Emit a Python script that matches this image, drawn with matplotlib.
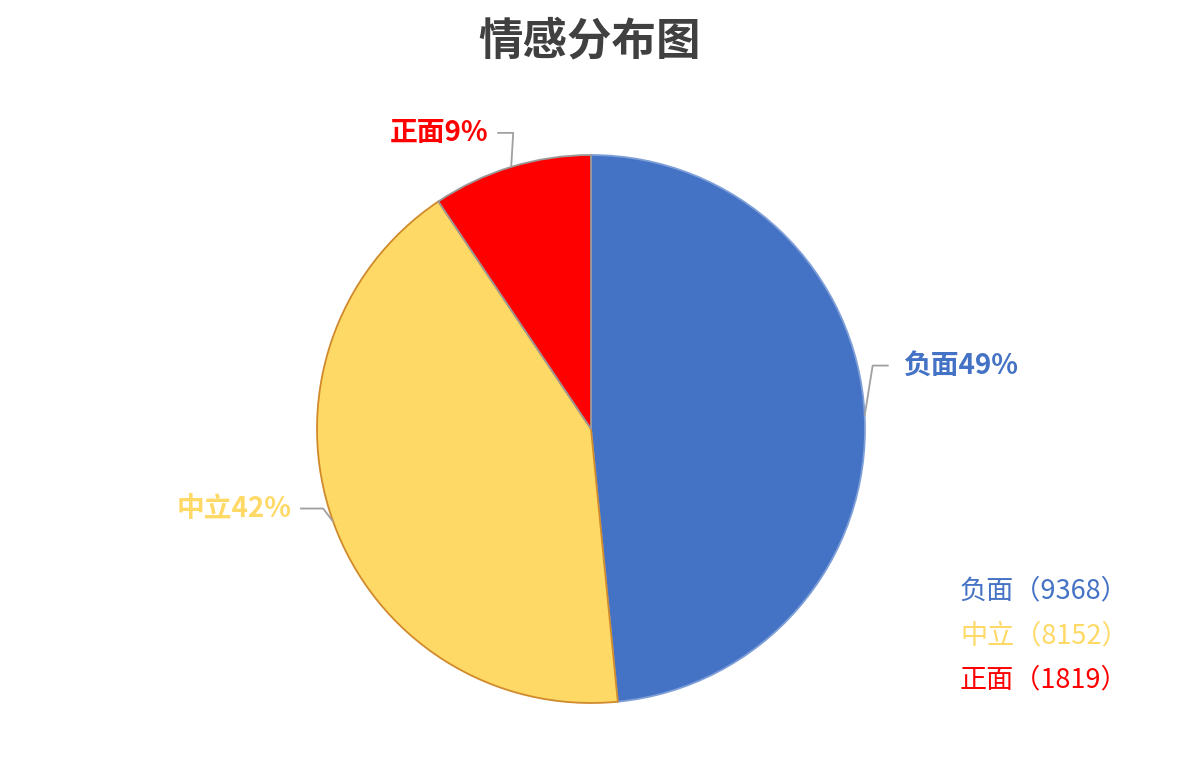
import matplotlib
matplotlib.use("Agg")
import matplotlib.pyplot as plt
import numpy as np

plt.rcParams['font.family'] = ['Noto Sans CJK SC', 'DejaVu Sans']

categories = ['负面', '中立', '正面']
values = [9368, 8152, 1819]
pct_labels = ['49%', '42%', '9%']
colors = ['#4472c4', '#ffd966', '#ff0000']
edge_colors = ['#7f9fd8', '#d08a2c', '#9a9a9a']

W, H = 1200, 769
fig = plt.figure(figsize=(12, 7.69), dpi=100)
ax = fig.add_axes([0, 0, 1, 1])
ax.set_xlim(0, W)
ax.set_ylim(0, H)
ax.set_aspect('equal')
ax.axis('off')

cx, cy, R = 591, H - 429, 274
wedges, _ = ax.pie(values, colors=colors, startangle=90, counterclock=False,
                   center=(cx, cy), radius=R, frame=True,
                   wedgeprops=dict(linewidth=1.3))
for w, ec in zip(wedges, edge_colors):
    w.set_edgecolor(ec)
ax.set_xlim(0, W)
ax.set_ylim(0, H)
ax.axis('off')

# leader lines & labels
leader = [((8, 50), 16, 'left'), ((-10, 13), -23, 'right'), ((2, 34), -16, 'right')]
for w, cat, pct, col, (d1, d2, ha) in zip(wedges, categories, pct_labels, colors, leader):
    ang = np.deg2rad((w.theta1 + w.theta2) / 2)
    x0 = cx + R * np.cos(ang)
    y0 = cy + R * np.sin(ang)
    x1, y1 = x0 + d1[0], y0 + d1[1]
    x2 = x1 + d2
    ax.plot([x0, x1, x2], [y0, y1, y1], color='#a0a0a0', lw=1.3, solid_capstyle='butt')
    tx = x2 + (14 if ha == 'left' else -9)
    ax.text(tx, y1, cat + pct, color=col, fontsize=20, fontweight='bold',
            ha=ha, va='center')

# title
ax.text(590, H - 41, '情感分布图', ha='center', va='center', fontsize=32,
        fontweight='bold', color='#404040')

# legend-like text
for i, (cat, v, col) in enumerate(zip(categories, values, colors)):
    ax.text(960, H - (591 + 44.5 * i), f'{cat}（{v}）', color=col, fontsize=19.5,
            ha='left', va='center')

fig.savefig('out.png', dpi=100)
